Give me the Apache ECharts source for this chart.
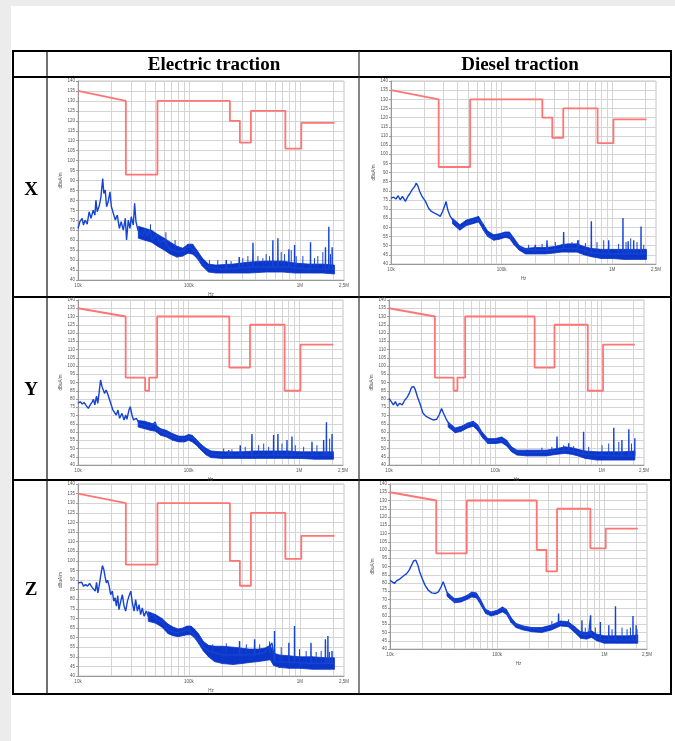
<!DOCTYPE html>
<html>
<head>
<meta charset="utf-8">
<title>Magnetic field emissions - electric and diesel traction</title>
<script src="https://cdn.jsdelivr.net/npm/echarts@6/dist/echarts.min.js"></script>
<style>
  html, body { margin: 0; padding: 0; background: #ececec; }
  #sheet { position: absolute; left: 11px; top: 6px; width: 664px; height: 735px; background: #fff; }
  #main { position: absolute; left: 0; top: 0; width: 675px; height: 741px; }
</style>
</head>
<body>
<div id="sheet"></div>
<div id="main"></div>
<script>
// frequencies in kHz, levels in dBuA/m
var xTickKHz = [10, 100, 1000, 2500];
var xTickLabels = ['10k', '100k', '1M', '2,5M'];
var xGridKHz = [20, 30, 40, 50, 60, 70, 80, 90, 100, 200, 300, 400, 500, 600, 700, 800, 900, 1000, 2000];
var colTitles = ['Electric traction', 'Diesel traction'];
var rowTitles = ['X', 'Y', 'Z'];

// limit lines [kHz, dB]
var limitX = [[10,135],[27,130],[27,93],[52,93],[52,130],[234,130],[234,120],[288,120],[288,109],[362,109],[362,125],[740,125],[740,106],[1030,106],[1030,119],[2050,119]];
var limitY = [[10,135],[27,130],[27,93],[40.5,93],[40.5,85],[44,85],[44,93],[52,93],[52,130],[234,130],[234,99],[360,99],[360,125],[740,125],[740,85],[1030,85],[1030,113],[2050,113]];
var limitZ = [[10,135],[27,130],[27,98],[52,98],[52,130],[234,130],[234,100],[288,100],[288,87],[362,87],[362,125],[740,125],[740,101],[1030,101],[1030,113],[2050,113]];

// measured spectra [kHz, dB]
var traceEX = [[10,65.9],[10.4,69.3],[10.9,71],[11.2,67.6],[11.6,70.1],[12.1,68.1],[12.6,74.3],[13.1,71],[13.7,75.1],[14.2,72.6],[14.5,80.1],[14.9,74.3],[15.6,77.6],[16.1,81.8],[16.7,91],[17.1,83.5],[17.6,85.2],[18.1,76.8],[18.7,79.3],[19.4,84.3],[20,76.8],[20.8,77.6],[21.7,70.1],[22.6,72.6],[23.6,65.9],[24.5,69.3],[25.6,65.1],[26.7,71],[27.4,60.1],[28.4,70.1],[29.4,65.9],[30.2,71.8],[31.5,67.6],[32.4,78.5],[33.3,69.3],[34.7,65.1],[36,65],[38,62],[40,66],[42,62],[44,65],[47,60],[50,63],[55,59],[60,60],[66,56],[72,55],[80,54],[90,55],[100,57],[110,55],[125,50],[140,47],[160,46],[200,45.5],[215,45.5],[217,50],[219,45.5],[282,46],[284,51.5],[286,46],[376,46.5],[378,58.7],[380,46.5],[569,46.5],[571,60],[573,46.5],[632,46.5],[634,61],[636,46.5],[794,46.5],[796,55.4],[798,46.5],[894,46],[896,57.6],[898,46],[1245,45.5],[1248,59],[1251,45.5],[1698,45.5],[1702,56.4],[1706,45.5],[1820,45.5],[1824,66.8],[1828,45.5],[1951,45.5],[1955,56.4],[1960,45.5],[2050,45.5]];
var traceDX = [[10,76],[10.6,76.5],[11.1,75.5],[11.6,77.3],[12.1,75.1],[12.7,76.9],[13.5,74.2],[14.2,76.9],[14.8,78.4],[15.5,80.5],[16.4,82.4],[16.9,84.2],[17.5,82.7],[18.2,79.6],[19.1,76.9],[20.5,74.2],[21.9,70.5],[23.2,68.7],[24.8,67.8],[26.6,66.9],[27.9,66],[29.3,68.7],[30.5,71.5],[31.5,74.2],[32.6,69.6],[34.4,66],[36.9,63.3],[39.5,61.5],[42.4,59.6],[45.4,60.5],[48.7,62.4],[54,63.3],[60,64.5],[64.3,63.3],[68.9,58.7],[73.9,56],[82,54.2],[94,55.1],[108,56.4],[117.5,56],[129,52.4],[143,49.6],[164,47.8],[200,47.5],[202,50.5],[204,47.5],[256,47.5],[258,53],[260,47.5],[363,48.5],[365,57.5],[367,48.5],[487,48.5],[489,53],[491,48.5],[648,46],[650,63.3],[652,46],[930,45.5],[933,53],[936,45.5],[1253,45.5],[1256,65.1],[1259,45.5],[1396,45.5],[1400,52.4],[1404,45.5],[1566,45.5],[1570,53],[1574,45.5],[1826,45.5],[1830,60.5],[1834,45.5],[2050,45.5]];
var traceEY = [[10,77.4],[10.5,78.4],[10.9,77],[11.4,77.8],[11.9,75.8],[12.4,74.3],[12.9,76.4],[13.5,78.4],[13.8,79.8],[14.2,76.4],[14.7,81.8],[15.1,77.4],[15.5,83.4],[16,91.5],[16.5,87.5],[16.8,88.5],[17.4,83.4],[18,85.5],[18.7,82.4],[19.3,83.4],[20,76.4],[20.7,73.3],[21.4,74.3],[22.2,70.3],[23,73.3],[23.8,68.3],[25,71.3],[26.1,67.3],[27,70.3],[27.7,67.7],[28.9,73.3],[29.7,75.3],[30.8,70.3],[31.8,67.3],[33.7,68.3],[36,65],[40,64],[45,63],[50,66],[52,62],[58,60],[66,58],[75,57],[85,56],[95,56],[103,57],[112,56],[125,52],[140,49],[160,46.5],[200,46],[229,46],[231,49],[233,46],[292,46],[294,52],[296,46],[373,46],[375,58.8],[377,46],[587,46],[589,58.2],[591,46],[642,46],[644,58.8],[646,46],[776,46],[778,55.2],[780,46],[861,46],[863,57.2],[865,46],[1305,46],[1310,54.1],[1315,46],[1665,46],[1670,55.2],[1675,46],[1765,46],[1770,65.9],[1775,46],[1985,46],[1990,58.8],[1995,46],[2050,46]];
var traceDY = [[10,80.4],[10.5,78.4],[11,76.4],[11.5,78.4],[12,75.8],[12.6,77.4],[13.3,76.4],[14.1,79.4],[14.8,81],[15.5,83.4],[16.3,87.1],[17.1,87.5],[17.7,85.5],[18.5,81.4],[19.5,77.4],[20.9,71.3],[22.5,69.3],[24.2,68.3],[26,67.3],[28,67.7],[29.6,70.3],[31.2,74.3],[32.4,71.7],[34.8,67.3],[37.4,64.2],[40.2,62.2],[43.2,61.2],[46.5,61.6],[50,62.8],[55.7,64.8],[62.1,65.9],[66.7,64.2],[71.8,60.2],[77.1,56.2],[86,54.1],[99.4,54.7],[115,55.2],[128,53.5],[143,49.5],[165,47.5],[250,47.5],[378,48.5],[380,57.2],[382,48.5],[487,49],[489,53.1],[491,49],[674,46.5],[676,60.2],[678,46.5],[1296,45.5],[1300,62.6],[1304,45.5],[1546,45.5],[1550,55.2],[1554,45.5],[1796,45.5],[1800,61.6],[1804,45.5],[2046,45.5],[2050,56.2]];
var traceEZ = [[10,88.5],[10.4,88.2],[10.8,88.8],[11.2,86.8],[11.7,87.6],[12.2,86.8],[12.7,88.2],[13.3,86.4],[13.8,87.1],[14.3,84.2],[14.7,88.8],[15.1,83.3],[15.5,86.8],[16,92],[16.6,97.5],[17.1,95.4],[17.5,92],[18,88.5],[18.5,89.9],[19.1,86.8],[19.7,82.4],[20.4,84.2],[21,79],[21.6,80.7],[22.2,76.4],[22.8,81.9],[23.4,74.6],[24.3,79],[25.1,82.4],[26,76.4],[26.9,73.8],[27.9,79],[28.8,81.6],[29.9,84.2],[30.9,78.1],[32,73.8],[33.1,79.8],[34.3,73.8],[35.5,77.2],[36.7,72],[38,75.5],[39.4,71.2],[41.3,73.8],[43.1,70.8],[47,72],[52,69],[58,68],[65,64],[72,63],[80,62.5],[90,63.5],[100,64],[110,62],[122,59],[135,55],[150,53],[200,51],[284,51],[286,58.2],[288,51],[389,51],[391,59.1],[393,51],[470,52],[530,55],[560,57.3],[589,48],[591,63.4],[593,47.5],[794,47],[796,57.3],[798,47],[893,47],[895,66],[897,47],[1255,46.5],[1260,57.3],[1265,46.5],[1695,46.5],[1700,59.1],[1705,46.5],[1785,46.5],[1790,60.8],[1795,46.5],[1945,46.5],[1950,53],[1955,46.5],[2050,46.5]];
var traceDZ = [[10,81.7],[10.5,80.7],[11,79.7],[11.5,81.3],[12,80.7],[12.5,82.7],[13,83.3],[13.6,84.7],[14.3,85.7],[15.1,87.8],[15.9,90.8],[16.6,93.4],[17.4,93.8],[18.2,90.8],[18.9,86.8],[19.8,83.3],[21.2,78.7],[22.8,75.6],[24.5,74],[26.3,73.6],[28.3,74.6],[30,77.7],[31.3,80.7],[32.2,78.7],[33.9,74.6],[36.4,72],[39.1,69.1],[42,69.1],[45.1,70],[48.4,70.6],[52.1,71.6],[56,73.2],[60.1,74],[64.6,72.6],[69.3,68.5],[74.5,64.5],[80,61.9],[89.1,61.9],[99.3,63.1],[111,64.5],[120,63.1],[132,58.4],[147,55],[170,53.4],[211,52.4],[261,51.7],[324,53.4],[372,55.5],[374,61.5],[376,55.5],[464,55],[536,51.3],[616,48.5],[618,57.4],[620,48.5],[714,48.9],[743,49],[745,60.4],[747,49],[854,46.3],[916,46],[918,56.4],[920,46],[1098,45.5],[1100,54.4],[1102,45.5],[1266,45.5],[1270,65.9],[1274,45.5],[1846,45.5],[1850,60],[1854,45.5],[1976,45.5],[1980,54.4],[1984,45.5],[2050,45.5]];

// dense noise band [kHz, low dB, high dB]
var bandEX = [[35,61,67],[40,60,66],[46,59,65],[52,57,63],[60,55,61],[68,53,59],[78,51.5,57],[88,52,56],[98,53.5,58],[108,53,58],[118,51,55],[132,47,51],[150,44,48],[175,43.5,47.5],[250,43.5,48],[350,43.5,49],[500,44,49.5],[700,44,49.5],[900,43.5,48.5],[1200,43.5,48],[1600,43.5,48],[2050,43,47.5]];
var bandDX = [[36,62,65],[42,58.5,61.5],[48,61,64],[55,62,65],[62,63,66],[68,59,62],[75,55,58],[85,53,56],[95,53.5,56.5],[108,54.5,57.5],[118,54,57.5],[130,50.5,54],[145,47.5,50],[165,45.5,48.5],[200,45.5,49],[250,45.5,49],[300,46,49.5],[350,46.5,50.5],[400,46.5,51],[480,46.5,51],[560,45,49.5],[650,44,48.5],[800,43,48],[1000,43,48],[1300,42.5,48],[1700,42.5,48],[2050,42.5,48]];
var bandEY = [[35,63,67],[40,62,66.5],[45,61,65.5],[50,60.5,64.5],[56,58,62],[63,57,61],[72,55,59],[82,54,57.5],[92,54,57.5],[100,55,58.5],[108,54,58],[118,52,55.5],[130,49,52.5],[145,46,50],[160,44.5,48.5],[200,44,48],[300,44,48],[400,44,48.5],[600,44,48.5],[800,44,48.5],[1000,44,48],[1400,43.5,48],[2050,43.5,48]];
var bandDY = [[36,63,66],[42,59.5,62.5],[48,60.5,63.5],[55,62.5,65.5],[62,63.5,66.5],[68,61,64.5],[75,57,60],[85,53,56],[100,53,56],[115,53.5,57],[128,51.5,55],[142,48,51],[160,46,49],[200,45.5,49],[300,45.5,49],[380,46.5,50],[450,47,51],[520,46.5,50.5],[600,45.5,49.5],[700,44,48.5],[900,43,48],[1200,43,48],[1600,43,48],[2050,43,48.5]];
var bandEZ = [[43,68.5,73.5],[50,67.5,72],[57,65.5,70],[65,62,67],[72,61,65.5],[80,60.5,64.5],[88,61,65],[96,61.5,66],[104,61.5,66],[112,60,64.5],[122,57,62],[135,53,58],[150,50,56],[170,47.5,55.5],[200,46.5,55.5],[250,46,55],[300,46.5,54.5],[350,47,54],[420,47.5,54],[480,48,54.5],[540,48.5,56],[580,45.5,52],[650,44.5,51],[800,44,50.5],[1000,44,50],[1300,43.5,50],[1700,43.5,49.5],[2050,43.5,49.5]];
var bandDZ = [[34,72,74.5],[40,68,70.5],[46,68.5,71],[52,70,72.5],[58,71.5,74.5],[64,71,74],[70,67,70],[78,61.5,64],[88,60,62.5],[100,61,63.5],[112,62.5,65.5],[122,61,64],[135,56,59],[150,53,55.5],[175,51.5,54],[210,50.5,53],[260,50,53],[320,51.5,54.5],[390,54,57],[460,53.5,56.5],[530,50,53.5],[600,46.5,50.5],[680,46,50],[760,47,51],[850,45,49],[1000,43.5,48],[1300,43.5,48],[1700,43.5,48],[2050,43.5,48.5]];

// small spikes rising out of the band [kHz, from dB, to dB]
var spikesEX = [[45,63,68],[62,58,64],[75,55,60],[153,47,50],[182,46,50],[240,46,49.5],[306,47,51],[340,47,52],[419,47,52],[464,47,51],[497,48,53],[533,47,52],[679,48,54],[728,47,53],[836,47,55],[927,47,52],[1064,46,52],[1355,46,51],[1452,46,52],[1611,46,54],[1888,46,53]];
var spikesDX = [[176,47,50.5],[233,47,51],[307,47.5,52],[434,48,52],[499,48,53],[574,47,51.5],[731,46,52],[841,46,53],[1148,45.5,51],[1340,45.5,52],[1476,45.5,54],[1683,45.5,52],[1936,45.5,50.5]];
var spikesEY = [[208,46,50],[247,46,49.5],[326,46,51],[431,46.5,52],[479,46.5,53],[531,46.5,51],[701,46.5,53],[925,46,52],[1101,46,51],[1452,46,52],[1892,46,56]];
var spikesDY = [[274,47,50.5],[340,47,51],[439,48,52],[545,47.5,51.5],[755,46,51],[1007,45.5,52],[1164,45.5,53],[1449,45.5,54],[1906,45.5,53]];
var spikesEZ = [[164,52,56.5],[217,52,57],[329,51,56.5],[434,51,56.5],[533,52,58],[679,48,55],[993,47,54],[1140,47,53],[1403,46.5,52.5],[1556,46.5,53],[1849,46.5,52.5]];
var spikesDZ = [[324,53,57],[464,54,58],[664,48,53],[824,47,53],[1180,46,52],[1462,46,53],[1629,46,52],[1750,46,53],[2018,46,52]];

var panels = [
  { trace: traceEX, band: bandEX, spikes: spikesEX, limit: limitX, box: { left: 78, top: 81, width: 266, height: 199 } },
  { trace: traceDX, band: bandDX, spikes: spikesDX, limit: limitX, box: { left: 391, top: 81, width: 265, height: 183 } },
  { trace: traceEY, band: bandEY, spikes: spikesEY, limit: limitY, box: { left: 78, top: 300, width: 265, height: 165 } },
  { trace: traceDY, band: bandDY, spikes: spikesDY, limit: limitY, box: { left: 389, top: 300, width: 255, height: 165 } },
  { trace: traceEZ, band: bandEZ, spikes: spikesEZ, limit: limitZ, box: { left: 78, top: 484, width: 266, height: 192 } },
  { trace: traceDZ, band: bandDZ, spikes: spikesDZ, limit: limitZ, box: { left: 390, top: 484, width: 257, height: 165 } }
];

var BLUE = '#0b36c9';
var BLUE_LINE = '#1544d4';
var RED = '#ff7575';
var GRID_LINE = '#d5d5d5';
var SMALL = 4.5;

function lg(k) { return Math.log10(k); }
function tickLabel(v) {
  for (var i = 0; i < xTickKHz.length; i++) {
    if (Math.abs(lg(xTickKHz[i]) - v) < 1e-6) return xTickLabels[i];
  }
  return '';
}

// band as quads between consecutive readings: [x0, lo0, hi0, x1, lo1, hi1]
function bandSegments(band) {
  var out = [];
  for (var i = 0; i < band.length - 1; i++) {
    out.push([lg(band[i][0]), band[i][1], band[i][2], lg(band[i + 1][0]), band[i + 1][1], band[i + 1][2]]);
  }
  return out;
}

function renderBand(params, api) {
  var a = api.coord([api.value(0), api.value(1)]);
  var b = api.coord([api.value(0), api.value(2)]);
  var c = api.coord([api.value(3), api.value(5)]);
  var d = api.coord([api.value(3), api.value(4)]);
  return {
    type: 'polygon',
    shape: { points: [a, b, c, d] },
    style: { fill: BLUE, stroke: BLUE, lineWidth: 0.8 }
  };
}

function renderSpike(params, api) {
  var p0 = api.coord([api.value(0), api.value(1)]);
  var p1 = api.coord([api.value(0), api.value(2)]);
  return {
    type: 'line',
    shape: { x1: p0[0], y1: p0[1], x2: p1[0], y2: p1[1] },
    style: { stroke: BLUE_LINE, lineWidth: 1 }
  };
}

var chart = echarts.init(document.getElementById('main'), null, { renderer: 'canvas' });

var grids = [], xAxes = [], yAxes = [], series = [];
panels.forEach(function (p, i) {
  grids.push({
    left: p.box.left, top: p.box.top, width: p.box.width, height: p.box.height,
    show: true, borderColor: '#c4c4c4', borderWidth: 1, backgroundColor: 'transparent'
  });
  xAxes.push({
    type: 'value', gridIndex: i, min: 1, max: lg(2500),
    name: 'Hz', nameLocation: 'middle', nameGap: 12,
    nameTextStyle: { fontSize: SMALL, color: '#555' },
    axisLine: { show: true, lineStyle: { color: '#999', width: 1 } },
    axisTick: { show: false, customValues: xGridKHz.map(lg) },
    axisLabel: { customValues: xTickKHz.map(lg), formatter: tickLabel, fontSize: SMALL, color: '#555', margin: 3 },
    splitLine: { show: true, lineStyle: { color: GRID_LINE, width: 1 } }
  });
  yAxes.push({
    type: 'value', gridIndex: i, min: 40, max: 140, interval: 5,
    name: 'dBuA/m', nameLocation: 'middle', nameRotate: 90, nameGap: 15,
    nameTextStyle: { fontSize: SMALL, color: '#555' },
    axisLine: { show: true, lineStyle: { color: '#999', width: 1 } },
    axisTick: { show: true, length: 2, lineStyle: { color: '#999' } },
    axisLabel: { fontSize: SMALL, color: '#555', margin: 3 },
    splitLine: { show: true, lineStyle: { color: GRID_LINE, width: 1 } }
  });
  series.push({
    type: 'line', xAxisIndex: i, yAxisIndex: i, symbol: 'none', silent: true, z: 3,
    lineStyle: { color: RED, width: 1.8 },
    data: p.limit.map(function (d) { return [lg(d[0]), d[1]]; })
  });
  series.push({
    type: 'custom', xAxisIndex: i, yAxisIndex: i, silent: true, z: 2,
    renderItem: renderBand,
    encode: { x: [0, 3], y: [1, 2, 4, 5] },
    data: bandSegments(p.band)
  });
  series.push({
    type: 'custom', xAxisIndex: i, yAxisIndex: i, silent: true, z: 2,
    renderItem: renderSpike,
    encode: { x: 0, y: [1, 2] },
    data: p.spikes.map(function (d) { return [lg(d[0]), d[1], d[2]]; })
  });
  series.push({
    type: 'line', xAxisIndex: i, yAxisIndex: i, symbol: 'none', silent: true, z: 4,
    lineStyle: { color: BLUE_LINE, width: 1.4 },
    data: p.trace.map(function (d) { return [lg(d[0]), d[1]]; })
  });
});

// table frame and headings
var serif = 'bold 19px "Liberation Serif", "DejaVu Serif", serif';
var graphics = [
  { type: 'rect', shape: { x: 13, y: 51, width: 658, height: 643 }, style: { fill: 'none', stroke: '#000', lineWidth: 2 } },
  { type: 'line', shape: { x1: 13, y1: 77, x2: 671, y2: 77 }, style: { stroke: '#000', lineWidth: 2 } },
  { type: 'line', shape: { x1: 13, y1: 297, x2: 671, y2: 297 }, style: { stroke: '#000', lineWidth: 2 } },
  { type: 'line', shape: { x1: 13, y1: 480, x2: 671, y2: 480 }, style: { stroke: '#000', lineWidth: 2 } },
  { type: 'line', shape: { x1: 47, y1: 51, x2: 47, y2: 694 }, style: { stroke: '#111', lineWidth: 1.2 } },
  { type: 'line', shape: { x1: 359, y1: 51, x2: 359, y2: 694 }, style: { stroke: '#333', lineWidth: 1.2 } }
];
var colCenters = [214, 520];
colTitles.forEach(function (t, i) {
  graphics.push({ type: 'text', style: { text: t, x: colCenters[i], y: 65, font: serif, fill: '#000', textAlign: 'center', textVerticalAlign: 'middle', align: 'center', verticalAlign: 'middle' } });
});
var rowCenters = [190, 390, 590];
rowTitles.forEach(function (t, i) {
  graphics.push({ type: 'text', style: { text: t, x: 31, y: rowCenters[i], font: serif, fill: '#000', textAlign: 'center', textVerticalAlign: 'middle', align: 'center', verticalAlign: 'middle' } });
});

chart.setOption({
  animation: false,
  grid: grids,
  xAxis: xAxes,
  yAxis: yAxes,
  series: series,
  graphic: { elements: graphics }
});
</script>
</body>
</html>
